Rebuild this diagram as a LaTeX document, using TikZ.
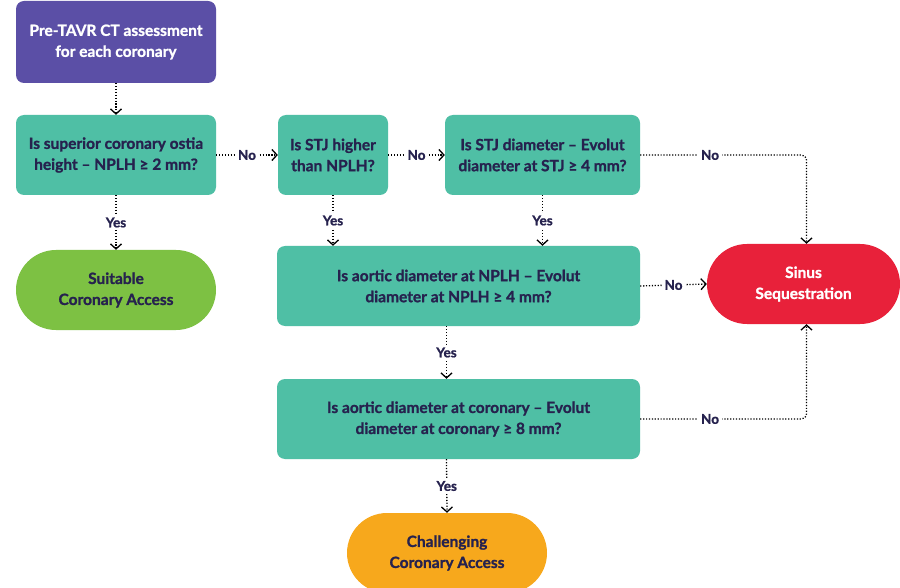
\documentclass[tikz,border=0pt]{standalone}
\usepackage{fontspec}
\setmainfont{Lato}[BoldFeatures={FakeBold=1.2}]
\usetikzlibrary{arrows.meta,positioning}
\definecolor{navy}{HTML}{26224E}
\definecolor{purplebox}{HTML}{5B4FA6}
\definecolor{tealbox}{HTML}{4FBFA5}
\definecolor{greenpill}{HTML}{7DC143}
\definecolor{redpill}{HTML}{E8213A}
\definecolor{orangepill}{HTML}{F7A81C}
\tikzset{
  base/.style={align=center, font=\fontsize{15.5}{21}\selectfont\bfseries, inner sep=0pt},
  qbox/.style={base, fill=tealbox, text=navy, rounded corners=8pt, minimum height=80pt},
  startbox/.style={base, fill=purplebox, text=white, rounded corners=8pt, minimum width=200pt, minimum height=82pt},
  pill/.style={base, rounded corners=40pt, minimum height=80pt},
  flow/.style={draw=black, line width=1.3pt, dash pattern=on 1.2pt off 1.7pt,
    -{Straight Barb[length=5pt,width=11pt,line width=1.3pt]}},
  lbl/.style={fill=white, text=navy, font=\fontsize{13.5}{15}\selectfont\bfseries, inner sep=3pt}
}
\begin{document}
\begin{tikzpicture}[x=1pt,y=-1pt]
\useasboundingbox[fill=white] (0,0) rectangle (900,588);

% boxes
\node[startbox] (start) at (116,42) {Pre-TAVR CT assessment\\for each coronary};
\node[qbox, minimum width=200pt] (q1) at (116,155) {Is superior coronary ostia\\height -- NPLH ≥ 2 mm?};
\node[pill, fill=greenpill, text=navy, minimum width=200pt] (suit) at (116,290) {Suitable\\Coronary Access};
\node[qbox, minimum width=110pt] (q2) at (333,155) {Is STJ higher\\than NPLH?};
\node[qbox, minimum width=195pt] (q3) at (542.5,155) {Is STJ diameter -- Evolut\\diameter at STJ ≥ 4 mm?};
\node[qbox, minimum width=363pt] (q4) at (458.5,286) {Is aortic diameter at NPLH -- Evolut\\diameter at NPLH ≥ 4 mm?};
\node[pill, fill=redpill, text=white, minimum width=193pt] (sinus) at (803.5,284) {Sinus\\Sequestration};
\node[qbox, minimum width=363pt] (q5) at (458.5,419) {Is aortic diameter at coronary -- Evolut\\diameter at coronary ≥ 8 mm?};
\node[pill, fill=orangepill, text=navy, minimum width=200pt] (chal) at (447,553) {Challenging\\Coronary Access};

% connectors
\draw[flow] (start.south) -- (q1.north);
\draw[flow] (q1.south) -- node[lbl]{Yes} (suit.north);
\draw[flow] (q1.east) -- node[lbl]{No} (q2.west);
\draw[flow] (q2.east) -- node[lbl]{No} (q3.west);
\draw[flow] (q2.south) -- node[lbl]{Yes} (q2.south |- q4.north);
\draw[flow] (q3.south) -- node[lbl]{Yes} (q3.south |- q4.north);
\draw[flow, rounded corners=5pt] (q3.east) -| node[lbl, pos=0.21]{No} ([xshift=3pt]sinus.north);
\draw[flow] (q4.east) -- node[lbl]{No} (sinus.west);
\draw[flow] ([xshift=-12pt]q4.south) -- node[lbl]{Yes} ([xshift=-12pt]q4.south |- q5.north);
\draw[flow, rounded corners=5pt] (q5.east) -| node[lbl, pos=0.21]{No} ([xshift=3pt]sinus.south);
\draw[flow] ([xshift=-12pt]q5.south) -- node[lbl]{Yes} (chal.north);
\end{tikzpicture}
\end{document}
